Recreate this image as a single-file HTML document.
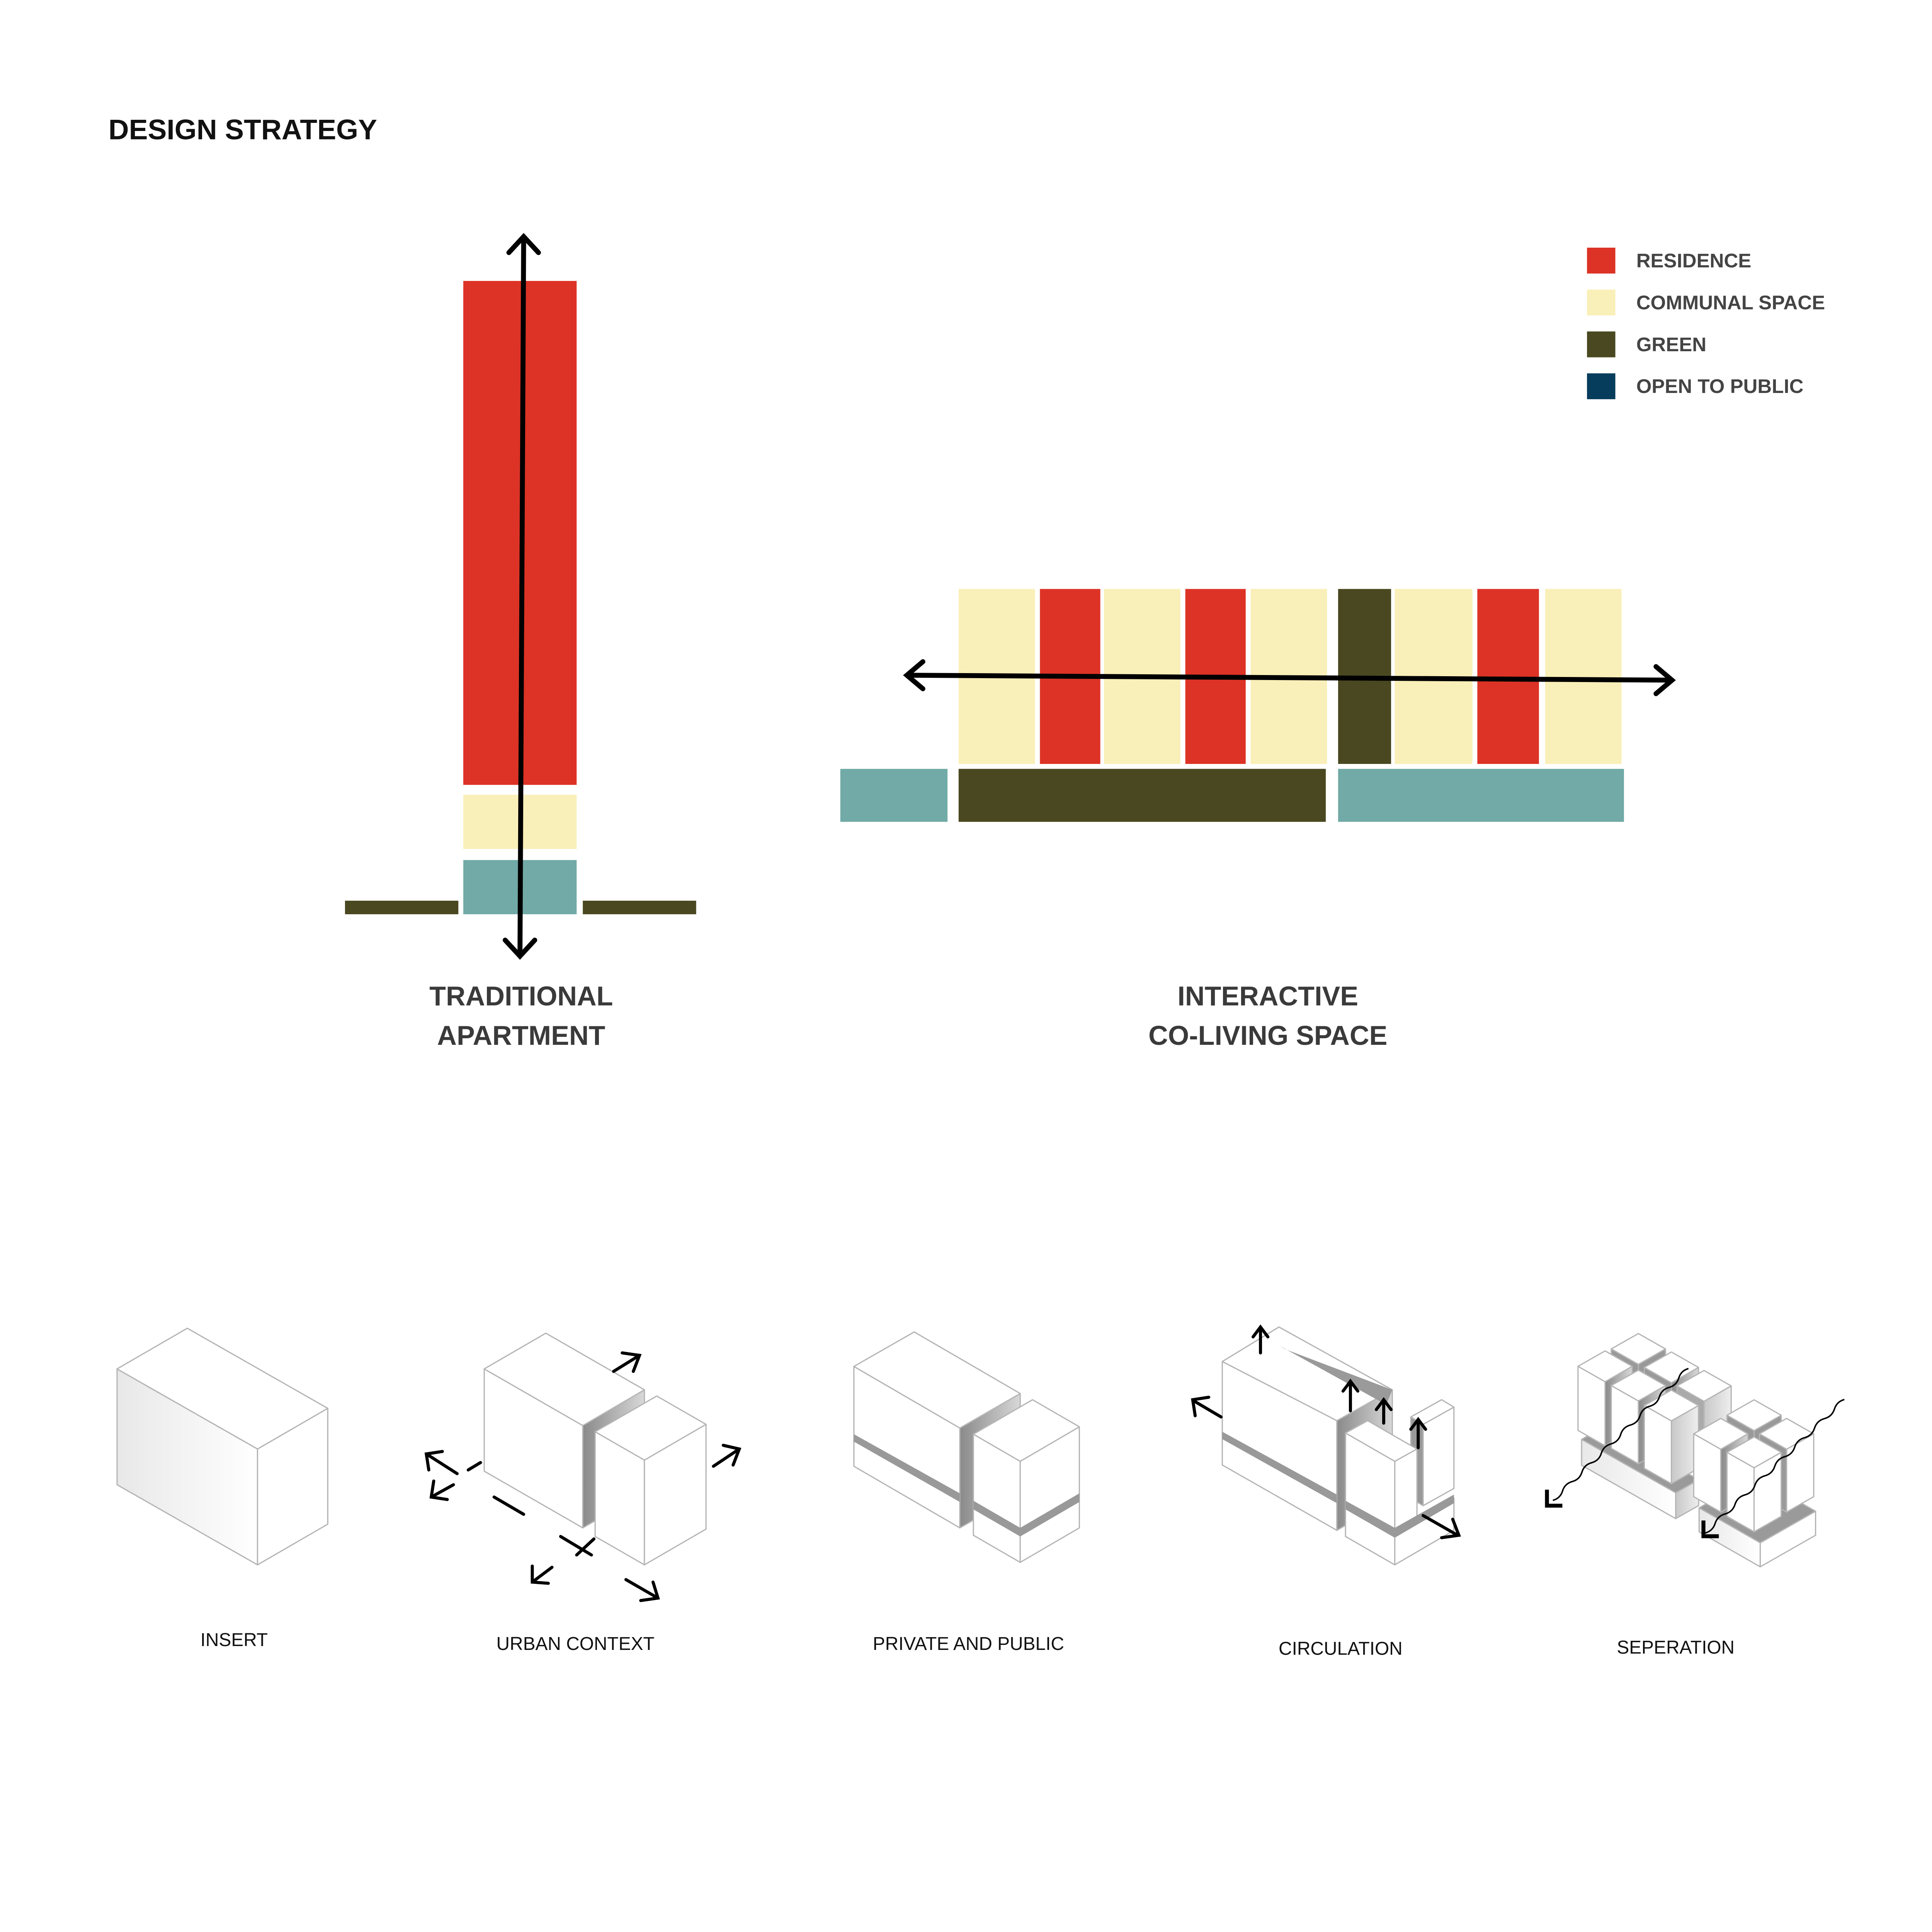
<!DOCTYPE html>
<html><head><meta charset="utf-8"><style>
html,body{margin:0;padding:0;background:#fff;overflow:hidden;width:100%;height:100%;}
svg{display:block;width:100vw;height:100vh;}
text{font-family:"Liberation Sans",sans-serif;}
</style></head><body>
<svg viewBox="0 0 1568 1568" preserveAspectRatio="xMinYMin meet" xmlns="http://www.w3.org/2000/svg">
<defs>
<linearGradient id="g" x1="0" y1="0" x2="1" y2="0"><stop offset="0" stop-color="#8a8a8a"/><stop offset="1" stop-color="#d8d8d8"/></linearGradient>
<linearGradient id="g2" x1="0" y1="0" x2="1" y2="0"><stop offset="0" stop-color="#e8e8e8"/><stop offset="1" stop-color="#fff"/></linearGradient>
<linearGradient id="g3" x1="0" y1="0" x2="1" y2="0"><stop offset="0" stop-color="#c8c8c8"/><stop offset="1" stop-color="#eeeeee"/></linearGradient>
</defs>
<text x="88" y="113" font-size="23" font-weight="bold" fill="#111">DESIGN STRATEGY</text>

<rect x="376" y="228" width="92" height="409" fill="#dc3326"/>
<rect x="376" y="645" width="92" height="44" fill="#f9efb8"/>
<rect x="376" y="698" width="92" height="44" fill="#71aaa7"/>
<rect x="280" y="731" width="92" height="11" fill="#4a4820"/>
<rect x="473" y="731" width="92" height="11" fill="#4a4820"/>
<g stroke="#000" stroke-width="4" fill="none" stroke-linecap="round">
<line x1="425" y1="194" x2="422" y2="775"/>
<polyline points="413,205 425,192 437,205"/>
<polyline points="410,763 422,776 434,763"/>
</g>
<text x="423" y="816" font-size="22" font-weight="bold" fill="#3a3a3a" text-anchor="middle">TRADITIONAL</text>
<text x="423" y="848" font-size="22" font-weight="bold" fill="#3a3a3a" text-anchor="middle">APARTMENT</text>

<g>
<rect x="778" y="478" width="62" height="142" fill="#f9efb8"/>
<rect x="844" y="478" width="49" height="142" fill="#dc3326"/>
<rect x="896" y="478" width="62" height="142" fill="#f9efb8"/>
<rect x="962" y="478" width="49" height="142" fill="#dc3326"/>
<rect x="1015" y="478" width="62" height="142" fill="#f9efb8"/>
<rect x="1086" y="478" width="43" height="142" fill="#4a4820"/>
<rect x="1132" y="478" width="63" height="142" fill="#f9efb8"/>
<rect x="1199" y="478" width="50" height="142" fill="#dc3326"/>
<rect x="1254" y="478" width="62" height="142" fill="#f9efb8"/>
<rect x="682" y="624" width="87" height="43" fill="#71aaa7"/>
<rect x="778" y="624" width="298" height="43" fill="#4a4820"/>
<rect x="1086" y="624" width="232" height="43" fill="#71aaa7"/>
</g>
<g stroke="#000" stroke-width="4" fill="none" stroke-linecap="round">
<line x1="737" y1="548" x2="1356" y2="552"/>
<polyline points="749,537 736,548 749,559"/>
<polyline points="1344,541 1357,552 1344,563"/>
</g>
<text x="1029" y="816" font-size="22" font-weight="bold" fill="#3a3a3a" text-anchor="middle">INTERACTIVE</text>
<text x="1029" y="848" font-size="22" font-weight="bold" fill="#3a3a3a" text-anchor="middle">CO-LIVING SPACE</text>

<rect x="1288" y="201" width="23" height="21" fill="#dc3326"/>
<rect x="1288" y="235" width="23" height="21" fill="#f9efb8"/>
<rect x="1288" y="269" width="23" height="21" fill="#4a4820"/>
<rect x="1288" y="303" width="23" height="21" fill="#063d5c"/>
<g font-size="16" font-weight="bold" fill="#444">
<text x="1328" y="217">RESIDENCE</text>
<text x="1328" y="251">COMMUNAL SPACE</text>
<text x="1328" y="285">GREEN</text>
<text x="1328" y="319">OPEN TO PUBLIC</text>
</g>

<g stroke="#b5b5b5" stroke-width="1" fill="#fff" stroke-linejoin="round">
<polygon points="209,1270 95,1205 95,1111 209,1176" fill="url(#g2)"/>
<polygon points="209,1270 266,1237 266,1143 209,1176"/>
<polygon points="209,1176 95,1111 152,1078 266,1143"/>

<polygon points="473,1240 393,1194 393,1111 473,1157"/>
<polygon points="473,1240 523,1211 523,1128 473,1157" fill="url(#g)"/>
<polygon points="473,1157 393,1111 443,1082 523,1128"/>
<polygon points="523,1270 483,1247 483,1162 523,1185"/>
<polygon points="523,1270 573,1241 573,1156 523,1185"/>
<polygon points="523,1185 483,1162 533,1133 573,1156"/>

<polygon points="779,1240 693,1190 693,1109 779,1159"/>
<polygon points="779,1240 828,1212 828,1131 779,1159" fill="url(#g)"/>
<polygon points="779,1159 693,1109 742,1081 828,1131"/>
<polygon points="779,1212 693,1164 693,1170 779,1219" fill="#999" stroke="none"/>
<polygon points="828,1268 790,1246 790,1164 828,1186"/>
<polygon points="828,1268 876,1240 876,1158 828,1186"/>
<polygon points="828,1186 790,1164 838,1136 876,1158"/>
<polygon points="828,1240 790,1218 790,1225 828,1247 876,1219 876,1212" fill="#999" stroke="none"/>

<polygon points="1085,1242 992,1189 992,1105 1085,1153"/>
<polygon points="1085,1242 1130,1216 1130,1128 1085,1153" fill="url(#g)"/>
<polygon points="1085,1153 992,1105 1038,1077 1130,1128"/>
<polygon points="1085,1213 992,1162 992,1168 1085,1220" fill="#999" stroke="none"/>
<polygon points="1043,1095 1038,1092 1125,1140 1130,1128" fill="#9a9a9a" stroke="none"/>
<polygon points="1155,1222 1145,1216 1145,1150 1155,1156" fill="#999"/>
<polygon points="1155,1222 1180,1208 1180,1142 1155,1156"/>
<polygon points="1155,1156 1145,1150 1170,1136 1180,1142"/>
<polygon points="1132,1270 1092,1247 1092,1163 1132,1186"/>
<polygon points="1132,1270 1180,1242 1180,1216 1132,1244"/>
<polygon points="1132,1244 1132,1186 1150,1176 1150,1234" fill="#fff"/>
<polygon points="1132,1186 1092,1163 1110,1153 1150,1176"/>
<polygon points="1132,1240 1092,1218 1092,1225 1132,1248 1180,1220 1180,1213" fill="#999" stroke="none"/>

<!-- SEPERATION group 1 -->
<polygon points="1360,1211.5 1283.6,1168.2 1283.6,1189.2 1360,1232.5" fill="url(#g2)"/>
<polygon points="1360,1211.5 1378.6,1200.9 1378.6,1221.9 1360,1232.5" fill="url(#g3)"/>
<polygon points="1360,1211.5 1283.6,1168.2 1302.2,1157.6 1378.6,1200.9" fill="#9a9a9a"/>

<polygon points="1329.7,1107.3 1307.7,1094.8 1307.7,1149.8 1329.7,1162.3" fill="#999"/>
<polygon points="1329.7,1107.3 1351.7,1094.8 1351.7,1149.8 1329.7,1162.3" fill="#999"/>
<polygon points="1329.7,1107.3 1307.7,1094.8 1329.7,1082.3 1351.7,1094.8"/>

<polygon points="1302.7,1121.4 1280.7,1108.9 1280.7,1160.9 1302.7,1173.4"/>
<polygon points="1302.7,1121.4 1324.7,1108.9 1324.7,1160.9 1302.7,1173.4" fill="url(#g)"/>
<polygon points="1302.7,1121.4 1280.7,1108.9 1302.7,1096.4 1324.7,1108.9"/>

<polygon points="1356.5,1122.3 1334.5,1109.8 1334.5,1164.8 1356.5,1177.3" fill="#999"/>
<polygon points="1356.5,1122.3 1378.5,1109.8 1378.5,1164.8 1356.5,1177.3" fill="url(#g)"/>
<polygon points="1356.5,1122.3 1334.5,1109.8 1356.5,1097.3 1378.5,1109.8"/>

<polygon points="1329.7,1137 1307.7,1124.5 1307.7,1175.5 1329.7,1188"/>
<polygon points="1329.7,1137 1351.7,1124.5 1351.7,1175.5 1329.7,1188" fill="url(#g)"/>
<polygon points="1329.7,1137 1307.7,1124.5 1329.7,1112 1351.7,1124.5"/>

<polygon points="1383,1137.3 1361,1124.8 1361,1174.8 1383,1187.3" fill="#aaa"/>
<polygon points="1383,1137.3 1405,1124.8 1405,1174.8 1383,1187.3" fill="url(#g3)"/>
<polygon points="1383,1137.3 1361,1124.8 1383,1112.3 1405,1124.8"/>

<polygon points="1356.5,1153.2 1334.5,1140.7 1334.5,1191.7 1356.5,1204.2"/>
<polygon points="1356.5,1153.2 1378.5,1140.7 1378.5,1191.7 1356.5,1204.2" fill="url(#g3)"/>
<polygon points="1356.5,1153.2 1334.5,1140.7 1356.5,1128.2 1378.5,1140.7"/>

<!-- SEPERATION group 2 -->
<polygon points="1428.6,1252.1 1379,1223.8 1379,1243.3 1428.6,1271.6" fill="url(#g2)"/>
<polygon points="1428.6,1252.1 1473.5,1226.5 1473.5,1246 1428.6,1271.6"/>
<polygon points="1428.6,1252.1 1379,1223.8 1423.9,1198.2 1473.5,1226.5" fill="#9a9a9a"/>

<polygon points="1423.6,1161.1 1401.6,1148.6 1401.6,1198.6 1423.6,1211.1" fill="#999"/>
<polygon points="1423.6,1161.1 1445.6,1148.6 1445.6,1198.6 1423.6,1211.1" fill="#999"/>
<polygon points="1423.6,1161.1 1401.6,1148.6 1423.6,1136.1 1445.6,1148.6"/>

<polygon points="1396.6,1176.2 1374.6,1163.7 1374.6,1214.7 1396.6,1227.2"/>
<polygon points="1396.6,1176.2 1418.6,1163.7 1418.6,1214.7 1396.6,1227.2" fill="url(#g)"/>
<polygon points="1396.6,1176.2 1374.6,1163.7 1396.6,1151.2 1418.6,1163.7"/>

<polygon points="1450,1176.2 1428,1163.7 1428,1214.7 1450,1227.2" fill="#999"/>
<polygon points="1450,1176.2 1472,1163.7 1472,1214.7 1450,1227.2"/>
<polygon points="1450,1176.2 1428,1163.7 1450,1151.2 1472,1163.7"/>

<polygon points="1423.6,1191.2 1401.6,1178.7 1401.6,1230.7 1423.6,1243.2"/>
<polygon points="1423.6,1191.2 1445.6,1178.7 1445.6,1230.7 1423.6,1243.2"/>
<polygon points="1423.6,1191.2 1401.6,1178.7 1423.6,1166.2 1445.6,1178.7"/>
</g>

<g stroke="#000" stroke-width="2.5" fill="none" stroke-linecap="round">
<line x1="498" y1="1113" x2="519" y2="1100"/><polyline points="505,1098 519,1100 514,1113"/>
<line x1="579" y1="1190" x2="600" y2="1176"/><polyline points="587,1173 600,1176 595,1189"/>
<line x1="371" y1="1196" x2="346" y2="1180"/><polyline points="348,1193 346,1180 359,1178"/>
<line x1="368" y1="1205" x2="350" y2="1215"/><polyline points="352,1202 350,1215 363,1217"/>
<line x1="380" y1="1193" x2="390" y2="1187"/>
<line x1="401" y1="1215" x2="425" y2="1229"/>
<line x1="455" y1="1247" x2="480" y2="1262"/>
<line x1="482" y1="1249" x2="468" y2="1262"/>
<line x1="448" y1="1272" x2="432" y2="1284"/><polyline points="432,1271 432,1284 445,1285"/>
<line x1="508" y1="1282" x2="534" y2="1297"/><polyline points="520,1299 534,1297 530,1284"/>

<line x1="1023" y1="1098" x2="1023" y2="1078"/><polyline points="1017,1085 1023,1077 1029,1085"/>
<line x1="1096" y1="1145" x2="1096" y2="1122"/><polyline points="1090,1129 1096,1121 1102,1129"/>
<line x1="1123" y1="1155" x2="1123" y2="1137"/><polyline points="1117,1144 1123,1136 1129,1144"/>
<line x1="1151" y1="1175" x2="1151" y2="1153"/><polyline points="1145,1160 1151,1152 1157,1160"/>
<line x1="991" y1="1150" x2="969" y2="1137"/><polyline points="970,1149 968,1136 981,1134"/>
<line x1="1155" y1="1230" x2="1183" y2="1246"/><polyline points="1170,1248 1184,1246 1179,1233"/>
</g>
<g stroke="#000" stroke-width="1.2" fill="none">
<path d="M1260.3,1217.7 q6.03,-1.66 7.86,-7.64 t7.86,-7.64 t7.86,-7.64 t7.86,-7.64 t7.86,-7.64 t7.86,-7.64 t7.86,-7.64 t7.86,-7.64 t7.86,-7.64 t7.86,-7.64 t7.86,-7.64 t7.86,-7.64 t7.86,-7.64 t7.86,-7.64"/>
<path d="M1383.9,1244.2 q6.13,-1.67 8.07,-7.74 t8.07,-7.74 t8.07,-7.74 t8.07,-7.74 t8.07,-7.74 t8.07,-7.74 t8.07,-7.74 t8.07,-7.74 t8.07,-7.74 t8.07,-7.74 t8.07,-7.74 t8.07,-7.74 t8.07,-7.74 t8.07,-7.74"/>
</g>
<g stroke="#000" stroke-width="3.2" fill="none">
<polyline points="1255.5,1209 1255.5,1222 1268,1222"/>
<polyline points="1382.5,1234 1382.5,1246.8 1395,1246.8"/>
</g>

<g font-size="15" fill="#111" text-anchor="middle">
<text x="190" y="1336">INSERT</text>
<text x="467" y="1339">URBAN CONTEXT</text>
<text x="786" y="1339">PRIVATE AND PUBLIC</text>
<text x="1088" y="1343">CIRCULATION</text>
<text x="1360" y="1342">SEPERATION</text>
</g>
</svg>
</body></html>
